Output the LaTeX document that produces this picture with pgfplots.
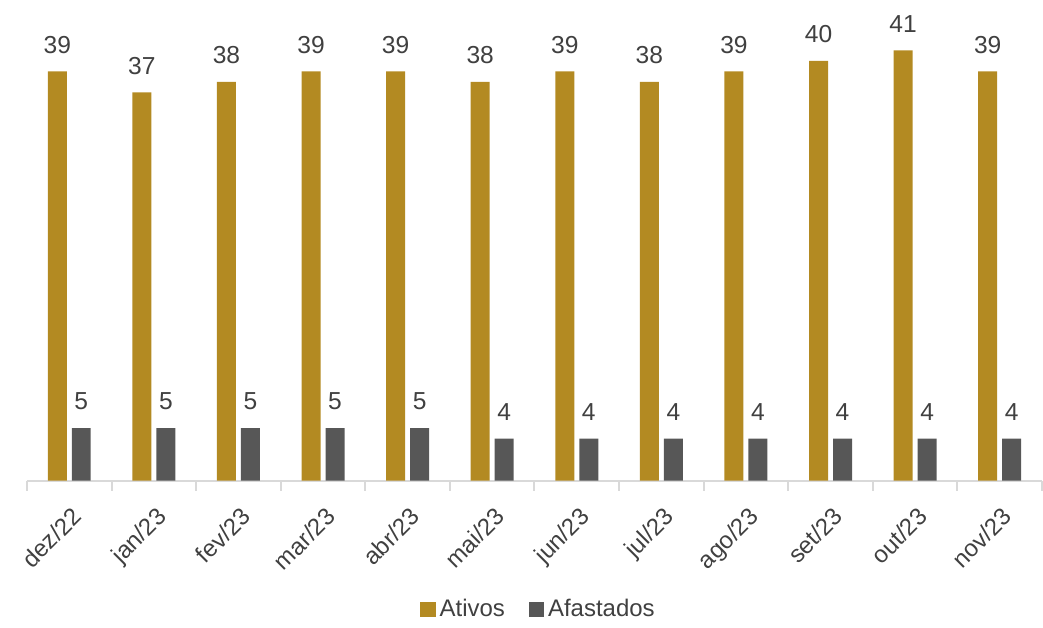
\documentclass[border=0pt]{standalone}
\usepackage{pgfplots}
\pgfplotsset{compat=1.18}
\usepackage{fontspec}
\setmainfont{Liberation Sans}
\definecolor{gold}{HTML}{B38A22}
\definecolor{dgray}{HTML}{575757}
\definecolor{axgray}{HTML}{D9D9D9}
\definecolor{txt}{HTML}{404040}
\begin{document}
\begin{tikzpicture}
\begin{axis}[
  at={(0,0)}, anchor=south west,
  scale only axis,
  width=508pt, height=240.5pt,
  ybar=2.5pt, bar width=9.5pt,
  xmin=-0.5, xmax=11.5, ymin=0, ymax=45.8,
  axis y line=none,
  axis x line*=bottom,
  x axis line style={axgray, line width=1pt, -},
  xtick={0,...,11},
  xticklabels={dez/22,jan/23,fev/23,mar/23,abr/23,mai/23,jun/23,jul/23,ago/23,set/23,out/23,nov/23},
  major x tick style={draw=none},
  minor xtick={-0.5,0.5,...,11.5},
  minor x tick style={axgray, line width=1pt},
  minor tick length=5pt,
  tick align=outside,
  x tick label style={rotate=45, anchor=north east, font=\fontsize{12}{14}\selectfont, text=txt, yshift=-3pt, xshift=-2pt},
  /pgf/number format/assume math mode=true,
  nodes near coords,
  every node near coord/.append style={font=\fontsize{12.3}{14}\selectfont, text=txt, yshift=5.5pt},
  legend columns=2,
  legend style={draw=none, at={(0.505,-0.268)}, anchor=center, font=\fontsize{12}{14}\selectfont, text=txt,
    /tikz/every even column/.append style={column sep=10pt}},
  legend image code/.code={\fill[#1] (0pt,-3.8pt) rectangle (7.6pt,3.8pt);},
]
\addplot[fill=gold, draw=none] coordinates {(0,39) (1,37) (2,38) (3,39) (4,39) (5,38) (6,39) (7,38) (8,39) (9,40) (10,41) (11,39)};
\addplot[fill=dgray, draw=none] coordinates {(0,5) (1,5) (2,5) (3,5) (4,5) (5,4) (6,4) (7,4) (8,4) (9,4) (10,4) (11,4)};
\legend{Ativos, Afastados}
\end{axis}
\useasboundingbox (-13.5pt,-71pt) rectangle (508pt,240.5pt);
\end{tikzpicture}
\end{document}
